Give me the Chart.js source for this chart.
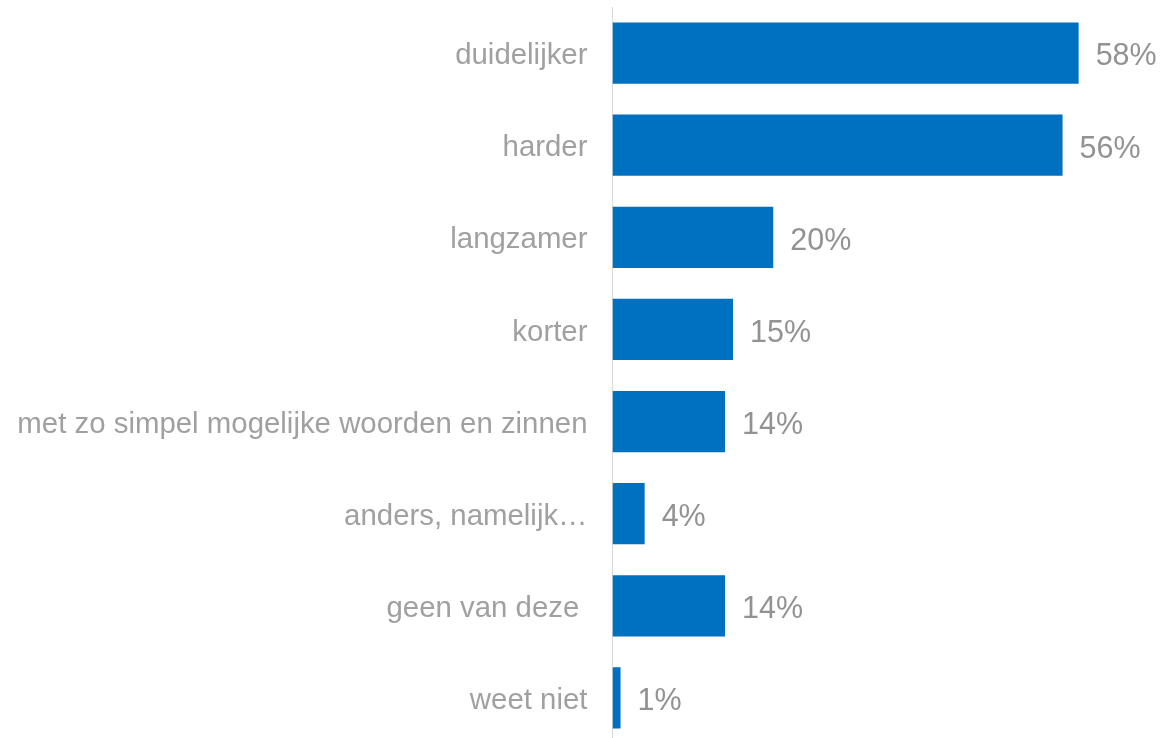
<!DOCTYPE html>
<html>
<head>
<meta charset="utf-8">
<script src="https://cdn.jsdelivr.net/npm/chart.js@4/dist/chart.umd.min.js"></script>
<style>
  html, body { margin: 0; padding: 0; background: #fff; overflow: hidden; }
  #wrap { position: relative; width: 1163px; height: 745px; }
</style>
</head>
<body>
<div id="wrap"><canvas id="barChart"></canvas></div>
<script>
// categories and values
const categories = [
  'duidelijker',
  'harder',
  'langzamer',
  'korter',
  'met zo simpel mogelijke woorden en zinnen',
  'anders, namelijk\u2026',
  'geen van deze ',
  'weet niet'
];
const percentages = [58, 56, 20, 15, 14, 4, 14, 1];
const valueLabels = ['58%', '56%', '20%', '15%', '14%', '4%', '14%', '1%'];

// draws the % text right of each bar
const valueLabelPlugin = {
  id: 'valueLabels',
  afterDatasetsDraw(chart) {
    const ctx = chart.ctx;
    const meta = chart.getDatasetMeta(0);
    ctx.save();
    ctx.font = '30.5px "Liberation Sans", Arial, sans-serif';
    ctx.fillStyle = '#929292';
    ctx.textAlign = 'left';
    ctx.textBaseline = 'middle';
    meta.data.forEach(function(bar, i) {
      ctx.fillText(valueLabels[i], bar.x + 17, bar.y + 4);
    });
    ctx.restore();
  }
};

const ctx = document.getElementById('barChart').getContext('2d');
const chart = new Chart(ctx, {
  type: 'bar',
  data: {
    labels: categories,
    datasets: [{
      data: percentages,
      backgroundColor: '#0070C0',
      borderWidth: 0,
      categoryPercentage: 1,
      barPercentage: 0.665
    }]
  },
  options: {
    indexAxis: 'y',
    responsive: true,
    maintainAspectRatio: false,
    animation: false,
    layout: { padding: { top: 7, right: 4, bottom: 1, left: 0 } },
    plugins: {
      legend: { display: false },
      tooltip: { enabled: false }
    },
    scales: {
      x: {
        display: false,
        min: 0,
        max: 68
      },
      y: {
        afterFit(scale) {
          scale.width = 612.5;
          scale.paddingTop = 0;
          scale.paddingBottom = 0;
        },
        grid: { display: false, drawTicks: false },
        border: { display: true, color: '#D9D9D9', width: 1 },
        ticks: {
          padding: 25,
          labelOffset: 3,
          color: '#A0A0A0',
          font: { family: '"Liberation Sans", Arial, sans-serif', size: 29.4 }
        }
      }
    }
  },
  plugins: [valueLabelPlugin]
});
</script>
</body>
</html>
